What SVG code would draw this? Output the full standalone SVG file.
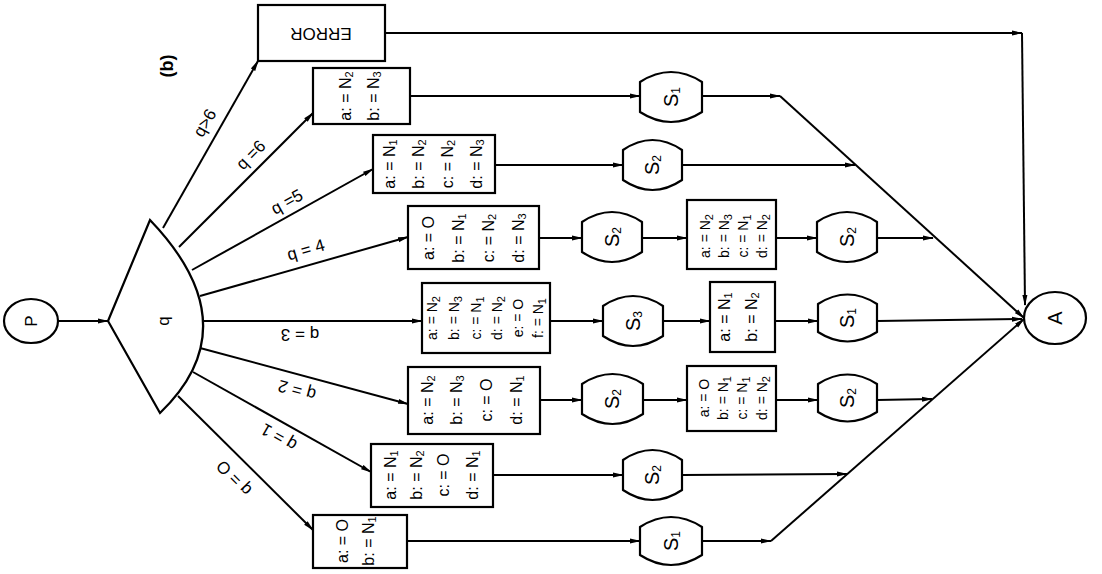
<svg xmlns="http://www.w3.org/2000/svg" width="1102" height="574" viewBox="0 0 1102 574">
<defs>
<marker id="ar" markerWidth="11" markerHeight="6" refX="10" refY="3" orient="auto" markerUnits="userSpaceOnUse">
<path d="M0,0.5 L11,3 L0,5.5 z" fill="#000"/>
</marker>
<style>
.s{fill:#fff;stroke:#000;stroke-width:2.2}
.c{fill:none;stroke:#000;stroke-width:2;marker-end:url(#ar)}
.t{font-family:"Liberation Sans",Arial,sans-serif;font-size:16px;fill:#000;text-anchor:middle;dominant-baseline:central}
.sm{font-size:14px}
.lb{font-size:17px}
.sn{font-size:20px}
.sub{font-size:11px}
.ssub{font-size:12px}
</style>
</defs>
<rect width="1102" height="574" fill="#fff"/>

<text class="t lb" transform="translate(167 66) rotate(-90)" style="font-weight:bold;font-size:18px">(b)</text>

<g id="connectors">
<line class="c" x1="58" y1="321" x2="108" y2="321"/>
<line class="c" x1="163" y1="228" x2="258" y2="61"/>
<line class="c" x1="179" y1="247" x2="313" y2="113"/>
<line class="c" x1="192" y1="270" x2="373" y2="169"/>
<line class="c" x1="200" y1="296" x2="408" y2="237"/>
<line class="c" x1="203" y1="321" x2="422" y2="321"/>
<line class="c" x1="200" y1="348" x2="408" y2="404"/>
<line class="c" x1="193" y1="372" x2="371" y2="472"/>
<line class="c" x1="178" y1="396" x2="313" y2="530"/>
<line class="c" x1="410" y1="96" x2="640" y2="96"/>
<line class="c" x1="702" y1="96" x2="780" y2="96"/>
<line class="c" x1="780" y1="96" x2="1024" y2="318"/>
<line class="c" x1="495" y1="165" x2="623" y2="165"/>
<line class="c" x1="682" y1="165" x2="855" y2="165"/>
<line class="c" x1="539" y1="238" x2="582" y2="238"/>
<line class="c" x1="642" y1="238" x2="687" y2="238"/>
<line class="c" x1="776" y1="238" x2="817" y2="238"/>
<line class="c" x1="877" y1="238" x2="933" y2="238"/>
<line class="c" x1="550" y1="321" x2="603" y2="321"/>
<line class="c" x1="663" y1="321" x2="710" y2="321"/>
<line class="c" x1="775" y1="321" x2="818" y2="321"/>
<line class="c" x1="877" y1="321" x2="1022" y2="319"/>
<line class="c" x1="540" y1="400" x2="582" y2="400"/>
<line class="c" x1="643" y1="400" x2="687" y2="400"/>
<line class="c" x1="776" y1="400" x2="818" y2="400"/>
<line class="c" x1="877" y1="400" x2="932" y2="399"/>
<line class="c" x1="493" y1="475" x2="623" y2="475"/>
<line class="c" x1="682" y1="475" x2="847" y2="474"/>
<line class="c" x1="407" y1="541" x2="640" y2="541"/>
<line class="c" x1="702" y1="541" x2="771" y2="541"/>
<line class="c" x1="771" y1="541" x2="1024" y2="319"/>
<line class="c" x1="385" y1="33" x2="1022" y2="33"/>
<line class="c" x1="1022" y1="33" x2="1025" y2="305"/>
</g>

<g id="edge-labels">
<text class="t lb" transform="translate(205 123) rotate(-60)">q&gt;6</text>
<text class="t lb" transform="translate(251 155) rotate(-45)">q =6</text>
<text class="t lb" transform="translate(287 202) rotate(-29)">q =5</text>
<text class="t lb" transform="translate(306 250) rotate(-16)">q = 4</text>
<text class="t lb" transform="translate(300 334) rotate(180)">q = 3</text>
<text class="t lb" transform="translate(297 390) rotate(195)">q = 2</text>
<text class="t lb" transform="translate(279 437) rotate(210)">q = 1</text>
<text class="t lb" transform="translate(234 478) rotate(225)">q = O</text>
</g>

<g id="P">
<ellipse class="s" cx="31" cy="321" rx="27" ry="22"/>
<text class="t lb" transform="translate(31 321) rotate(-90)">P</text>
</g>

<g id="Q">
<path class="s" d="M108,321 L150,220 Q251,325.5 160,413 Z"/>
<text class="t lb" transform="translate(163 321) rotate(-90)">q</text>
</g>

<g id="ERROR">
<rect class="s" x="258" y="5" width="127" height="56"/>
<text class="t lb" transform="translate(321 33) rotate(180)">ERROR</text>
</g>

<g id="A">
<ellipse class="s" cx="1055" cy="318" rx="31" ry="26"/>
<text class="t sn" transform="translate(1055 318) rotate(-90)">A</text>
</g>

<g id="box-q6">
<rect class="s" x="313" y="68" width="97" height="56"/>
<text class="t" transform="translate(345 96) rotate(-90)">a: = N<tspan class="sub" dy="4">2</tspan></text>
<text class="t" transform="translate(373 96) rotate(-90)">b: = N<tspan class="sub" dy="4">3</tspan></text>
</g>

<g id="box-q5">
<rect class="s" x="373" y="135" width="122" height="58"/>
<text class="t" transform="translate(389 164) rotate(-90)">a: = N<tspan class="sub" dy="4">1</tspan></text>
<text class="t" transform="translate(418 164) rotate(-90)">b: = N<tspan class="sub" dy="4">2</tspan></text>
<text class="t" transform="translate(447 164) rotate(-90)">c: = N<tspan class="sub" dy="4">2</tspan></text>
<text class="t" transform="translate(476 164) rotate(-90)">d: = N<tspan class="sub" dy="4">3</tspan></text>
</g>

<g id="box-q4">
<rect class="s" x="408" y="206" width="131" height="63"/>
<text class="t" transform="translate(428 238) rotate(-90)">a: = O</text>
<text class="t" transform="translate(458 238) rotate(-90)">b: = N<tspan class="sub" dy="4">1</tspan></text>
<text class="t" transform="translate(488 238) rotate(-90)">c: = N<tspan class="sub" dy="4">2</tspan></text>
<text class="t" transform="translate(518 238) rotate(-90)">d: = N<tspan class="sub" dy="4">3</tspan></text>
</g>

<g id="box-q3">
<rect class="s" x="422" y="283" width="128" height="70"/>
<text class="t sm" transform="translate(432 318) rotate(-90)">a: = N<tspan class="sub" dy="4">2</tspan></text>
<text class="t sm" transform="translate(454 318) rotate(-90)">b: = N<tspan class="sub" dy="4">3</tspan></text>
<text class="t sm" transform="translate(476 318) rotate(-90)">c: = N<tspan class="sub" dy="4">1</tspan></text>
<text class="t sm" transform="translate(497 318) rotate(-90)">d: = N<tspan class="sub" dy="4">2</tspan></text>
<text class="t sm" transform="translate(518 318) rotate(-90)">e: = O</text>
<text class="t sm" transform="translate(538 318) rotate(-90)">f: = N<tspan class="sub" dy="4">1</tspan></text>
</g>

<g id="box-q2">
<rect class="s" x="408" y="367" width="132" height="67"/>
<text class="t" transform="translate(427 400) rotate(-90)">a: = N<tspan class="sub" dy="4">2</tspan></text>
<text class="t" transform="translate(456 400) rotate(-90)">b: = N<tspan class="sub" dy="4">3</tspan></text>
<text class="t" transform="translate(486 400) rotate(-90)">c: = O</text>
<text class="t" transform="translate(516 400) rotate(-90)">d: = N<tspan class="sub" dy="4">1</tspan></text>
</g>

<g id="box-q1">
<rect class="s" x="371" y="444" width="122" height="63"/>
<text class="t" transform="translate(390 475) rotate(-90)">a: = N<tspan class="sub" dy="4">1</tspan></text>
<text class="t" transform="translate(416 475) rotate(-90)">b: = N<tspan class="sub" dy="4">2</tspan></text>
<text class="t" transform="translate(443 475) rotate(-90)">c: = O</text>
<text class="t" transform="translate(472 475) rotate(-90)">d: = N<tspan class="sub" dy="4">1</tspan></text>
</g>

<g id="box-q0">
<rect class="s" x="313" y="515" width="94" height="53"/>
<text class="t" transform="translate(342 541) rotate(-90)">a: = O</text>
<text class="t" transform="translate(368 541) rotate(-90)">b: = N<tspan class="sub" dy="4">1</tspan></text>
</g>

<g id="box-q4b">
<rect class="s" x="687" y="200" width="89" height="69"/>
<text class="t sm" transform="translate(705 236) rotate(-90)">a: = N<tspan class="sub" dy="4">2</tspan></text>
<text class="t sm" transform="translate(724 236) rotate(-90)">b: = N<tspan class="sub" dy="4">3</tspan></text>
<text class="t sm" transform="translate(743 236) rotate(-90)">c: = N<tspan class="sub" dy="4">1</tspan></text>
<text class="t sm" transform="translate(762 236) rotate(-90)">d: = N<tspan class="sub" dy="4">2</tspan></text>
</g>

<g id="box-q3b">
<rect class="s" x="710" y="282" width="65" height="70"/>
<text class="t" transform="translate(724 317) rotate(-90)">a: = N<tspan class="sub" dy="4">1</tspan></text>
<text class="t" transform="translate(751 317) rotate(-90)">b: = N<tspan class="sub" dy="4">2</tspan></text>
</g>

<g id="box-q2b">
<rect class="s" x="687" y="366" width="89" height="65"/>
<text class="t sm" transform="translate(704 398) rotate(-90)">a: = O</text>
<text class="t sm" transform="translate(723 398) rotate(-90)">b: = N<tspan class="sub" dy="4">1</tspan></text>
<text class="t sm" transform="translate(742 398) rotate(-90)">c: = N<tspan class="sub" dy="4">1</tspan></text>
<text class="t sm" transform="translate(762 398) rotate(-90)">d: = N<tspan class="sub" dy="4">2</tspan></text>
</g>

<g id="s-q6">
<path class="s" d="M640,82 Q671,62 702,82 L702,112 Q671,132 640,112 Z"/>
<text class="t sn" transform="translate(671 97) rotate(-90)">S<tspan class="ssub" dy="5">1</tspan></text>
</g>
<g id="s-q5">
<path class="s" d="M623,150 Q652.5,130 682,150 L682,180 Q652.5,200 623,180 Z"/>
<text class="t sn" transform="translate(652 165) rotate(-90)">S<tspan class="ssub" dy="5">2</tspan></text>
</g>
<g id="s-q4a">
<path class="s" d="M582,222 Q612,202 642,222 L642,252 Q612,272 582,252 Z"/>
<text class="t sn" transform="translate(612 237) rotate(-90)">S<tspan class="ssub" dy="5">2</tspan></text>
</g>
<g id="s-q4b">
<path class="s" d="M817,222 Q847,202 877,222 L877,252 Q847,272 817,252 Z"/>
<text class="t sn" transform="translate(847 237) rotate(-90)">S<tspan class="ssub" dy="5">2</tspan></text>
</g>
<g id="s-q3a">
<path class="s" d="M603,306 Q633,286 663,306 L663,336 Q633,356 603,336 Z"/>
<text class="t sn" transform="translate(633 321) rotate(-90)">S<tspan class="ssub" dy="5">3</tspan></text>
</g>
<g id="s-q3b">
<path class="s" d="M818,304 Q847.5,285 877,304 L877,332 Q847.5,351 818,332 Z"/>
<text class="t sn" transform="translate(847 318) rotate(-90)">S<tspan class="ssub" dy="5">1</tspan></text>
</g>
<g id="s-q2a">
<path class="s" d="M582,384 Q612.5,364 643,384 L643,414 Q612.5,434 582,414 Z"/>
<text class="t sn" transform="translate(612 399) rotate(-90)">S<tspan class="ssub" dy="5">2</tspan></text>
</g>
<g id="s-q2b">
<path class="s" d="M818,384 Q847.5,365 877,384 L877,412 Q847.5,431 818,412 Z"/>
<text class="t sn" transform="translate(847 398) rotate(-90)">S<tspan class="ssub" dy="5">2</tspan></text>
</g>
<g id="s-q1">
<path class="s" d="M623,460 Q652.5,440 682,460 L682,490 Q652.5,510 623,490 Z"/>
<text class="t sn" transform="translate(652 475) rotate(-90)">S<tspan class="ssub" dy="5">2</tspan></text>
</g>
<g id="s-q0">
<path class="s" d="M640,527 Q671,507 702,527 L702,555 Q671,575 640,555 Z"/>
<text class="t sn" transform="translate(671 541) rotate(-90)">S<tspan class="ssub" dy="5">1</tspan></text>
</g>
</svg>
